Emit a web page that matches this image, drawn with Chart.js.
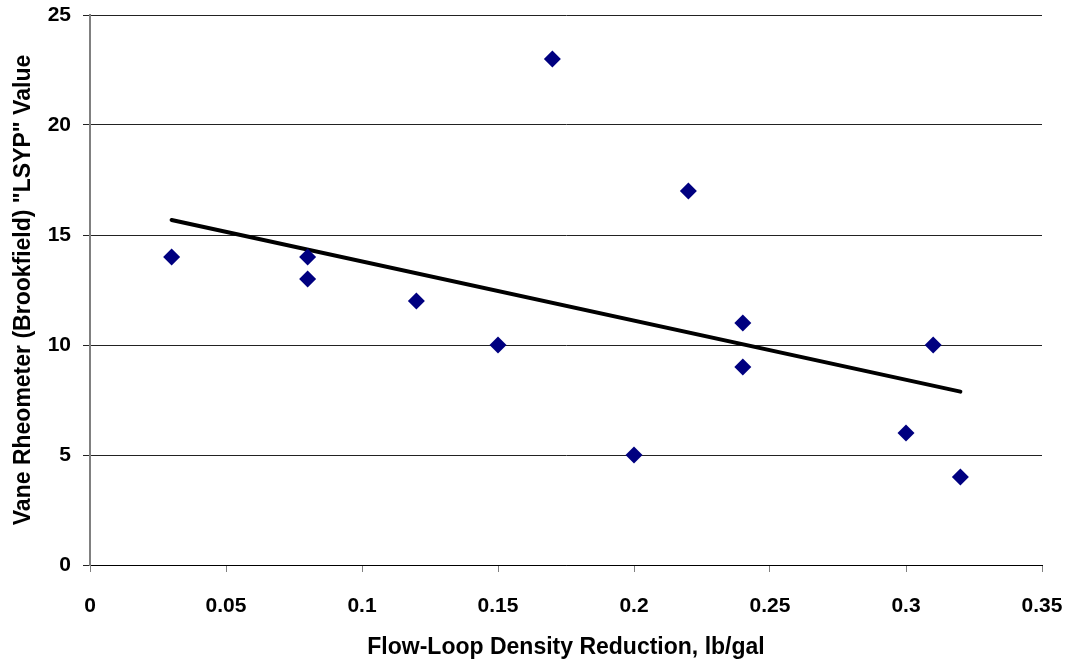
<!DOCTYPE html>
<html>
<head>
<meta charset="utf-8">
<script src="https://cdn.jsdelivr.net/npm/chart.js@4"></script>
<style>
  html, body { margin: 0; padding: 0; background: #fff; }
  #wrap { width: 1070px; height: 668px; position: relative; }
</style>
</head>
<body>
<div id="wrap"><canvas id="c"></canvas></div>
<script>
const xValues = [0.03, 0.08, 0.08, 0.12, 0.15, 0.17, 0.20, 0.22, 0.24, 0.24, 0.30, 0.31, 0.32];
const yValues = [14, 14, 13, 12, 10, 23, 5, 17, 11, 9, 6, 10, 4];
const trendX = [0.03, 0.32];
const trendY = [15.68, 7.88];
const xTitle = 'Flow-Loop Density Reduction, lb/gal';
const yTitle = 'Vane Rheometer (Brookfield) "LSYP" Value';

const FONT = '"Liberation Sans", Arial, sans-serif';

new Chart(document.getElementById('c'), {
  type: 'scatter',
  data: {
    datasets: [
      {
        label: 'Data',
        data: xValues.map((x, i) => ({ x: x, y: yValues[i] })),
        pointStyle: 'rectRot',
        pointRadius: 8.5,
        pointHoverRadius: 8.5,
        backgroundColor: '#000080',
        borderColor: '#000080',
        borderWidth: 0,
        order: 1
      },
      {
        label: 'Trend',
        type: 'line',
        data: trendX.map((x, i) => ({ x: x, y: trendY[i] })),
        borderColor: '#000',
        borderWidth: 4,
        borderCapStyle: 'round',
        pointRadius: 0,
        fill: false,
        order: 2
      }
    ]
  },
  options: {
    responsive: true,
    maintainAspectRatio: false,
    animation: false,
    layout: { padding: { top: 15, right: 28, left: 0, bottom: 0 } },
    plugins: { legend: { display: false }, tooltip: { enabled: false } },
    scales: {
      x: {
        type: 'linear',
        min: 0, max: 0.35,
        afterFit: s => { s.height = 103; s.paddingLeft = 0; s.paddingRight = 0; },
        ticks: {
          stepSize: 0.05,
          padding: 22,
          color: '#000',
          font: { family: FONT, size: 21, weight: 'bold' },
          callback: v => String(Number(v.toFixed(2)))
        },
        grid: { drawOnChartArea: false, tickLength: 7, color: '#808080', tickColor: '#808080' },
        border: { color: '#000', width: 1 },
        title: {
          display: true, text: xTitle, color: '#000',
          font: { family: FONT, size: 23, weight: 'bold' },
          padding: 7
        }
      },
      y: {
        min: 0, max: 25,
        afterFit: s => { s.width = 90; s.paddingTop = 0; s.paddingBottom = 0; },
        ticks: {
          stepSize: 5,
          padding: 12,
          color: '#000',
          font: { family: FONT, size: 21, weight: 'bold' }
        },
        grid: { color: '#222', lineWidth: 1, tickLength: 7, tickColor: '#222' },
        border: { color: '#808080', width: 2 },
        title: {
          display: true, text: yTitle, color: '#000',
          font: { family: FONT, size: 23, weight: 'bold' },
          padding: 10
        }
      }
    }
  }
});
</script>
</body>
</html>
